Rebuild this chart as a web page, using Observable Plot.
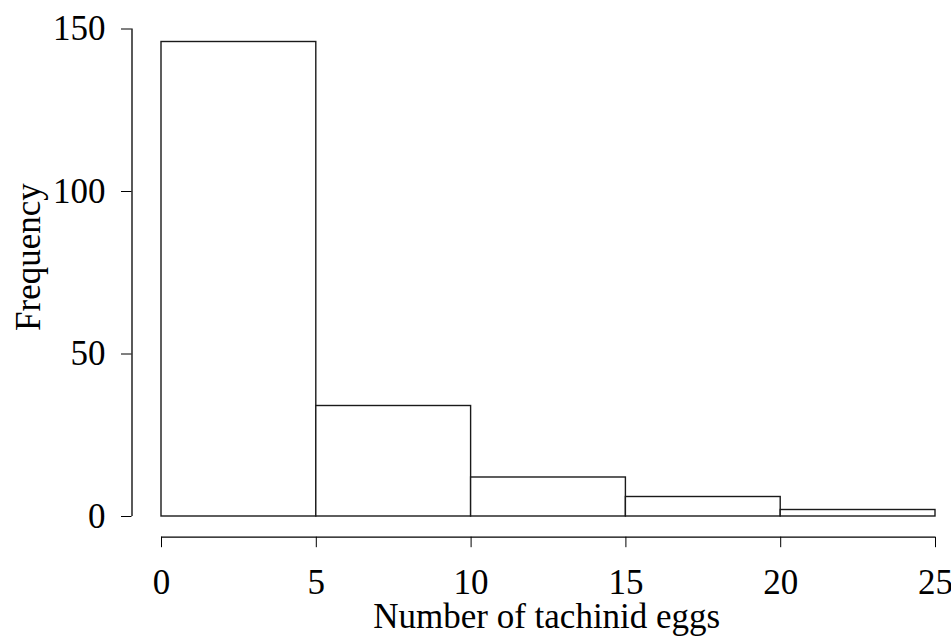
<!DOCTYPE html>
<html>
<head>
<meta charset="utf-8">
<script src="https://cdn.jsdelivr.net/npm/d3@7"></script>
<script src="https://cdn.jsdelivr.net/npm/@observablehq/plot@0.6"></script>
<style>
  html, body { margin: 0; padding: 0; background: white; }
</style>
</head>
<body>
<div id="chart"></div>
<script>
const binStarts = [0, 5, 10, 15, 20];
const binEnds = [5, 10, 15, 20, 25];
const counts = [146, 34, 12, 6, 2];
const xTicks = [0, 5, 10, 15, 20, 25];
const yTicks = [0, 50, 100, 150];
const xTitle = "Number of tachinid eggs";
const yTitle = "Frequency";

const bins = binStarts.map((s, i) => ({x1: s, x2: binEnds[i], count: counts[i]}));

const font = "Liberation Serif, Times New Roman, serif";

const chart = Plot.plot({
  width: 951,
  height: 638,
  marginLeft: 131.5,
  marginRight: 16,
  marginTop: 28.5,
  marginBottom: 101.3,
  style: {fontFamily: font, fontSize: "35px", background: "white", color: "black"},
  x: {domain: [0, 25], insetLeft: 29.5},
  y: {domain: [0, 150], insetBottom: 20.7},
  marks: [
    Plot.rectY(bins, {x1: "x1", x2: "x2", y: "count", fill: "white", stroke: "#1a1a1a", strokeWidth: 1.4}),
    Plot.axisY({ticks: yTicks, tickSize: 10.5, tickPadding: 16, tickFormat: d => String(d), label: null, fontSize: 35}),
    Plot.ruleX([0], {y1: yTicks[0], y2: yTicks[yTicks.length - 1], dx: -29.5, stroke: "black", strokeWidth: 1.3}),
    Plot.axisX({ticks: xTicks, tickSize: 10.5, tickPadding: 21.7, tickFormat: d => String(d), label: null, fontSize: 35}),
    Plot.ruleY([0], {x1: xTicks[0], x2: xTicks[xTicks.length - 1], dy: 20.7, stroke: "black", strokeWidth: 1.3}),
    Plot.text([xTitle], {frameAnchor: "bottom", text: d => d, textAnchor: "middle", lineAnchor: "bottom", dx: 13, dy: 90.3, fontSize: 35, fill: "black"}),
    Plot.text([yTitle], {frameAnchor: "left", text: d => d, rotate: -90, textAnchor: "middle", lineAnchor: "bottom", dx: -92.5, dy: -26, fontSize: 35, fill: "black"})
  ]
});
document.getElementById("chart").appendChild(chart);
</script>
</body>
</html>
